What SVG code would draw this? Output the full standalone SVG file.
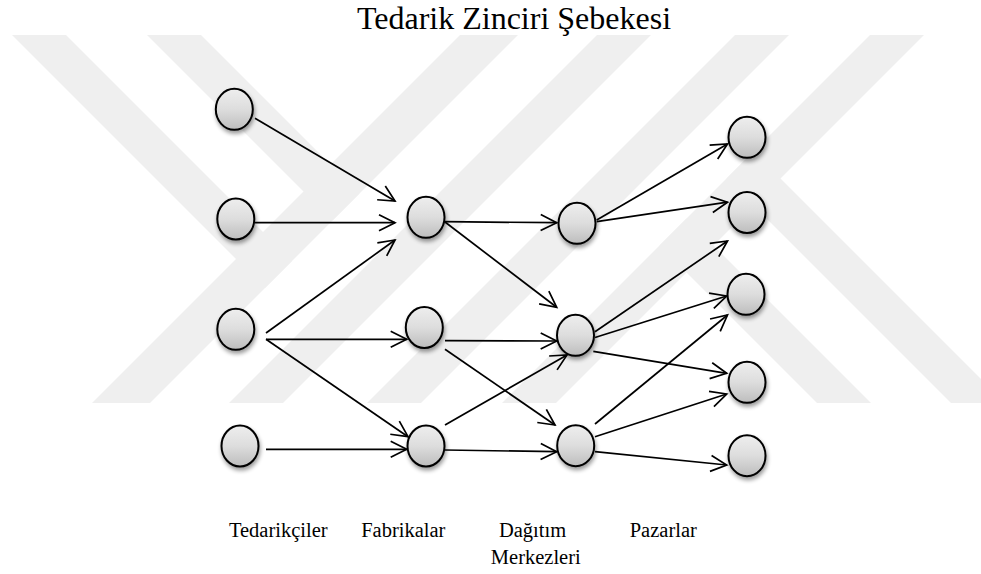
<svg xmlns="http://www.w3.org/2000/svg" width="981" height="574" viewBox="0 0 981 574">
  <style>
    .band { fill: #efefef; }
    .node { fill: url(#nodeFill); stroke: #000; stroke-width: 2; filter: url(#shadow); }
    .edge { fill: none; stroke: #000; stroke-width: 1.7; marker-end: url(#openArrow); }
    .title { font-family: "Liberation Serif", "Times New Roman", serif; font-size: 32px; fill: #000; }
    .label { font-family: "Liberation Serif", "Times New Roman", serif; font-size: 20.5px; fill: #000; text-anchor: middle; }
  </style>
  <defs>
    <linearGradient id="nodeFill" x1="0" y1="0" x2="0" y2="1">
      <stop offset="0" stop-color="#eeeeee"/>
      <stop offset="0.5" stop-color="#dddddd"/>
      <stop offset="1" stop-color="#bdbdbd"/>
    </linearGradient>
    <filter id="shadow" x="-50%" y="-50%" width="200%" height="200%">
      <feGaussianBlur in="SourceAlpha" stdDeviation="2"/>
      <feOffset dx="1" dy="3" result="off"/>
      <feComponentTransfer>
        <feFuncA type="linear" slope="0.4"/>
      </feComponentTransfer>
      <feMerge>
        <feMergeNode/>
        <feMergeNode in="SourceGraphic"/>
      </feMerge>
    </filter>
    <marker id="openArrow" markerUnits="userSpaceOnUse" markerWidth="22" markerHeight="22" refX="18" refY="10" orient="auto" overflow="visible">
      <path d="M2,2 L18,10 L2,18" fill="none" stroke="#000" stroke-width="1.7"/>
    </marker>
  </defs>

  <rect width="981" height="574" fill="#ffffff"/>

  <!-- background mark: diagonal light-grey stripes -->
  <g id="background-mark">
    <polygon class="band" points="12,35 66,35 292,261 265,288"/>
    <polygon class="band" points="147,35 201,35 359.5,193.5 332.5,220.5"/>
    <polygon class="band" points="460,35 518,35 150,403 92,403"/>
    <polygon class="band" points="597,35 651,35 283,403 229,403"/>
    <polygon class="band" points="735,35 789,35 421,403 367,403"/>
    <polygon class="band" points="870,35 924,35 556,403 502,403"/>
    <polygon class="band" points="659.5,245.5 817,403 871,403 686.5,218.5"/>
    <polygon class="band" points="726.5,178.5 951,403 981,403 981,379 753.5,151.5"/>
  </g>

  <text class="title" x="514" y="28.5" text-anchor="middle">Tedarik Zinciri Şebekesi</text>

  <!-- connectors -->
  <g id="connectors">
    <line class="edge" x1="255" y1="118.3" x2="395" y2="201"/>
    <line class="edge" x1="255" y1="222.7" x2="395" y2="222.7"/>
    <line class="edge" x1="266" y1="333" x2="395" y2="240"/>
    <line class="edge" x1="266" y1="339.3" x2="406.7" y2="339.3"/>
    <line class="edge" x1="266" y1="339.3" x2="408" y2="436.7"/>
    <line class="edge" x1="266" y1="449.3" x2="406.7" y2="449.3"/>

    <line class="edge" x1="445" y1="221.7" x2="556.7" y2="222.7"/>
    <line class="edge" x1="445" y1="222" x2="556.7" y2="307.3"/>
    <line class="edge" x1="445" y1="340.7" x2="556.7" y2="341"/>
    <line class="edge" x1="445" y1="349.3" x2="555" y2="425"/>
    <line class="edge" x1="445" y1="425" x2="567" y2="355"/>
    <line class="edge" x1="445" y1="450" x2="556.7" y2="451.7"/>

    <line class="edge" x1="596.7" y1="220" x2="727.5" y2="144"/>
    <line class="edge" x1="596.7" y1="221.7" x2="727.5" y2="202.2"/>
    <line class="edge" x1="595" y1="331.7" x2="727.5" y2="241"/>
    <line class="edge" x1="595" y1="337.5" x2="726.7" y2="296"/>
    <line class="edge" x1="593.3" y1="351.3" x2="726.7" y2="373.3"/>
    <line class="edge" x1="595" y1="424" x2="727.5" y2="315"/>
    <line class="edge" x1="595" y1="436.7" x2="726.7" y2="394"/>
    <line class="edge" x1="595" y1="451.7" x2="726.7" y2="465"/>
  </g>

  <!-- suppliers -->
  <g id="supplier-1"><ellipse class="node" cx="234.3" cy="109.3" rx="18.5" ry="20.5"/></g>
  <g id="supplier-2"><ellipse class="node" cx="235.8" cy="219" rx="18.5" ry="20.5"/></g>
  <g id="supplier-3"><ellipse class="node" cx="235.8" cy="329.3" rx="18.5" ry="20.5"/></g>
  <g id="supplier-4"><ellipse class="node" cx="240" cy="446" rx="18.5" ry="20.5"/></g>

  <!-- factories -->
  <g id="factory-1"><ellipse class="node" cx="426" cy="217.3" rx="18.5" ry="20.5"/></g>
  <g id="factory-2"><ellipse class="node" cx="424.3" cy="327.5" rx="18.5" ry="20.5"/></g>
  <g id="factory-3"><ellipse class="node" cx="426" cy="446" rx="18.5" ry="20.5"/></g>

  <!-- distribution centres -->
  <g id="distribution-1"><ellipse class="node" cx="577" cy="223.3" rx="18.5" ry="20.5"/></g>
  <g id="distribution-2"><ellipse class="node" cx="575.5" cy="335.3" rx="18.5" ry="20.5"/></g>
  <g id="distribution-3"><ellipse class="node" cx="575.7" cy="445.7" rx="18.5" ry="20.5"/></g>

  <!-- markets -->
  <g id="market-1"><ellipse class="node" cx="747" cy="137.3" rx="18.5" ry="20.5"/></g>
  <g id="market-2"><ellipse class="node" cx="747" cy="212.5" rx="18.5" ry="20.5"/></g>
  <g id="market-3"><ellipse class="node" cx="746" cy="294.3" rx="18.5" ry="20.5"/></g>
  <g id="market-4"><ellipse class="node" cx="747" cy="382.3" rx="18.5" ry="20.5"/></g>
  <g id="market-5"><ellipse class="node" cx="747" cy="455.7" rx="18.5" ry="20.5"/></g>

  <!-- column captions -->
  <g id="captions">
    <text class="label" x="278.3" y="537">Tedarikçiler</text>
    <text class="label" x="403.3" y="537">Fabrikalar</text>
    <text class="label" x="532.5" y="537">Dağıtım</text>
    <text class="label" x="535.8" y="564">Merkezleri</text>
    <text class="label" x="663.3" y="537">Pazarlar</text>
  </g>
</svg>
